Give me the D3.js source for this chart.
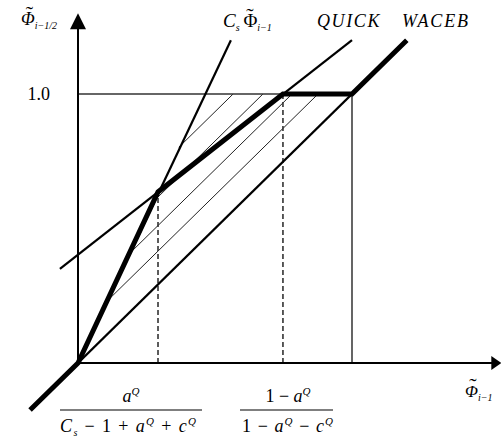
<!DOCTYPE html>
<html>
<head>
<meta charset="utf-8">
<script src="https://cdn.jsdelivr.net/npm/d3@7"></script>
<style>
  body { margin: 0; background: #fff; }
  svg text { font-family: "Liberation Serif", "Times New Roman", serif; fill: #000; }
</style>
</head>
<body>
<svg id="chart"></svg>
<script>
// normalized variables: x = Phi~_{i-1}, y = Phi~_{i-1/2}
const Cs = 2.18;
const csX = [0, 0.558];
const csY = [0, 1.2];
const quickX = [-0.066, 1.0];
const quickY = [0.35, 1.2];
const diagX = [0, 1];
const diagY = [0, 1];
const wacebX = [-0.175, 0, 0.292, 0.748, 1, 1.2];
const wacebY = [-0.175, 0, 0.636, 1, 1, 1.2];
const dashX = [0.292, 0.748];
const dashTop = [0.636, 1];
const hatchOffsets = [0.124, 0.219, 0.325, 0.434];
const yTicks = [1.0];
const axisEnd = { x: 1.545, y: 1.30 };

const width = 501, height = 441;

const svg = d3.select("#chart")
    .attr("width", width)
    .attr("height", height);

const x = d3.scaleLinear().domain([0, 1]).range([78, 352]);
const y = d3.scaleLinear().domain([0, 1]).range([363, 94]);

const line = d3.line()
    .x(d => x(d[0]))
    .y(d => y(d[1]));

const zip = (xs, ys) => xs.map((v, i) => [v, ys[i]]);

// hatching between C_s line, diagonal and 1.0
svg.append("g")
    .selectAll("path")
    .data(hatchOffsets)
    .join("path")
    .attr("d", c => line([[c / (Cs - 1), Cs * c / (Cs - 1)], [1 - c, 1]]))
    .attr("fill", "none")
    .attr("stroke", "#222")
    .attr("stroke-width", 1);

// 1.0 level and x = 1 vertical
svg.append("path")
    .attr("d", line([[0, 1], [1, 1]]))
    .attr("stroke", "#333")
    .attr("stroke-width", 1.5);
svg.append("path")
    .attr("d", line([[1, 0], [1, 1]]))
    .attr("stroke", "#555")
    .attr("stroke-width", 1.8);

// dashed drop lines
svg.append("g")
    .selectAll("path")
    .data(dashX)
    .join("path")
    .attr("d", (d, i) => line([[d, 0], [d, dashTop[i]]]))
    .attr("stroke", "#333")
    .attr("stroke-width", 1.6)
    .attr("stroke-dasharray", "5,3");

// thin limiter lines
[[diagX, diagY, 2.4], [quickX, quickY, 2.2], [csX, csY, 2.2]].forEach(([xs, ys, w]) => {
    svg.append("path")
        .attr("d", line(zip(xs, ys)))
        .attr("fill", "none")
        .attr("stroke", "#000")
        .attr("stroke-width", w);
});

// WACEB
svg.append("path")
    .attr("d", line(zip(wacebX, wacebY)))
    .attr("fill", "none")
    .attr("stroke", "#000")
    .attr("stroke-width", 5)
    .attr("stroke-linejoin", "miter");

// axes with arrow heads
const x0 = x(0), y0 = y(0);
const xTip = x(axisEnd.x), yTip = y(axisEnd.y);
svg.append("line")
    .attr("x1", x0).attr("y1", y0).attr("x2", xTip - 8).attr("y2", y0)
    .attr("stroke", "#000").attr("stroke-width", 2);
svg.append("line")
    .attr("x1", x0).attr("y1", y0).attr("x2", x0).attr("y2", yTip + 14)
    .attr("stroke", "#000").attr("stroke-width", 2);
svg.append("path")
    .attr("d", `M${xTip},${y0} L${xTip - 10},${y0 - 7} L${xTip - 10},${y0 + 7} Z`)
    .attr("fill", "#000");
svg.append("path")
    .attr("d", `M${x0},${yTip} L${x0 - 8},${yTip + 16} L${x0 + 8},${yTip + 16} Z`)
    .attr("fill", "#000");

svg.append("g")
    .selectAll("text")
    .data(yTicks)
    .join("text")
    .attr("x", 50)
    .attr("y", d => y(d) + 6)
    .attr("text-anchor", "end")
    .attr("font-size", 18)
    .text(d => d.toFixed(1));

// rich text helper: parts = [text, style]; style: i italic, sup, sub, t (tilde over previous glyph)
function rich(px, py, parts, opts = {}) {
    const t = svg.append("text")
        .attr("x", px)
        .attr("y", py)
        .attr("font-size", opts.size || 18)
        .attr("text-anchor", opts.anchor || "start");
    if (opts.len) t.attr("textLength", opts.len).attr("lengthAdjust", "spacing");
    if (opts.spacing) t.attr("letter-spacing", opts.spacing);
    let shift = 0, prev = null, back = 0;
    parts.forEach(([s, st = ""]) => {
        const sp = t.append("tspan").text(s);
        if (st.includes("i")) sp.attr("font-style", "italic");
        let target = 0, dx = back;
        back = 0;
        if (st.includes("sup")) { target = -7; sp.attr("font-size", 11); }
        if (st.includes("sub")) { target = 4; sp.attr("font-size", 10); }
        if (st === "t") {
            target = -4;
            sp.attr("font-size", 22);
            const pw = prev.node().getComputedTextLength();
            const tw = sp.node().getComputedTextLength();
            dx = -(pw + tw) / 2 + 1.5;
            back = (pw - tw) / 2 - 1.5;
        }
        if (dx) sp.attr("dx", dx);
        if (target !== shift) { sp.attr("dy", target - shift); shift = target; }
        prev = sp;
    });
    return t;
}

// axis titles
rich(21, 25, [["Φ", "i"], ["\u02DC", "t"], ["i−1/2", "i sub"]], { size: 18 });
rich(465, 397, [["Φ", "i"], ["\u02DC", "t"], ["i−1", "i sub"]], { size: 17 });

// top labels
rich(223, 27, [["C", "i"], ["s", "i sub"], ["\u2009Φ", ""], ["\u02DC", "t"], ["i−1", "i sub"]], { size: 19 });
rich(317, 27, [["QUICK", "i"]], { size: 18, spacing: 1.6 });
rich(402, 27, [["WACEB", "i"]], { size: 18, spacing: 1.8 });

// fraction tick labels
function bar(x1, x2, yy) {
    svg.append("line")
        .attr("x1", x1).attr("x2", x2).attr("y1", yy).attr("y2", yy)
        .attr("stroke", "#000").attr("stroke-width", 1.2);
}
bar(60, 202, 410);
rich(131, 402, [["a", "i"], ["Q", "i sup"]], { anchor: "middle" });
rich(60, 432, [["C", "i"], ["s", "i sub"], [" − 1 + ", ""], ["a", "i"], ["Q", "i sup"], [" + ", ""], ["c", "i"], ["Q", "i sup"]], { len: 136 });

bar(240, 333, 410);
rich(288, 402, [["1 − ", ""], ["a", "i"], ["Q", "i sup"]], { anchor: "middle" });
rich(242, 432, [["1 − ", ""], ["a", "i"], ["Q", "i sup"], [" − ", ""], ["c", "i"], ["Q", "i sup"]], { len: 91 });
</script>
</body>
</html>
